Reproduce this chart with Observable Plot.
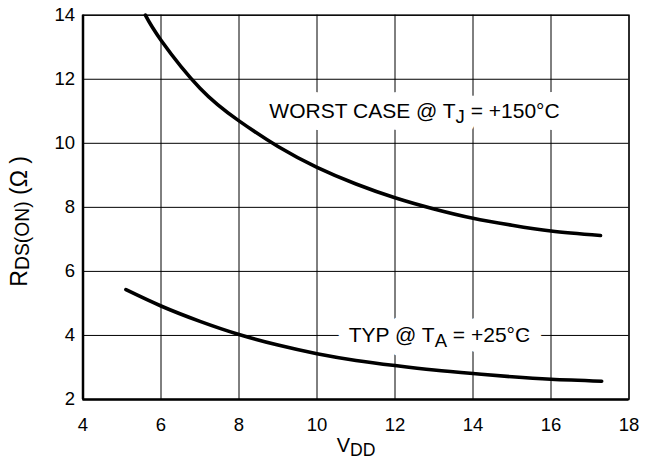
<!DOCTYPE html>
<html><head><meta charset="utf-8">
<script src="https://cdn.jsdelivr.net/npm/d3@7"></script>
<script src="https://cdn.jsdelivr.net/npm/@observablehq/plot@0.6"></script>
<style>body{margin:0;background:#fff} svg{display:block}</style>
</head><body><div id="chart"></div>
<script>
// Worst case @ TJ = +150°C
const worstVdd = [5.6, 6, 7, 8, 9, 10, 11, 12, 13, 14, 15, 16, 17.27];
const worstR   = [14, 13.22, 11.72, 10.7, 9.9, 9.25, 8.73, 8.3, 7.95, 7.66, 7.44, 7.26, 7.12];
// Typical @ TA = +25°C
const typVdd = [5.1, 6, 7, 8, 9, 10, 11, 12, 13, 14, 15, 16, 17.3];
const typR   = [5.43, 4.92, 4.44, 4.03, 3.7, 3.43, 3.22, 3.06, 2.92, 2.81, 2.71, 2.63, 2.57];

const xTicks = [4, 6, 8, 10, 12, 14, 16, 18];
const yTicks = [2, 4, 6, 8, 10, 12, 14];

const noteText = ["WORST CASE @ T_{J} = +150°C", "TYP @ T_{A} = +25°C"];
const noteX = [12.5, 13.14];
const noteY = [11, 4];
const xLabel = "V_{DD}";
const yLabel = "R_{DS(ON)} (Ω )";

const worst = worstVdd.map((v, i) => ({vdd: v, r: worstR[i]}));
const typ = typVdd.map((v, i) => ({vdd: v, r: typR[i]}));
const notes = noteText.map((t, i) => ({text: t, x: noteX[i], y: noteY[i]}));

const chart = Plot.plot({
  width: 645,
  height: 462,
  marginLeft: 82.5,
  marginRight: 16.5,
  marginTop: 14.7,
  marginBottom: 63,
  x: {domain: [4, 18], label: null},
  y: {domain: [2, 14], label: null},
  style: {fontFamily: "'Liberation Sans', Arial, Helvetica, sans-serif", fontSize: "18px", color: "#000", background: "#fff"},
  marks: [
    Plot.gridX(xTicks, {stroke: "#000", strokeOpacity: 1, strokeWidth: 1}),
    Plot.gridY(yTicks, {stroke: "#000", strokeOpacity: 1, strokeWidth: 1}),
    Plot.frame({stroke: "#000", strokeWidth: 1.3}),
    Plot.ruleX([4], {stroke: "#000", strokeWidth: 2.5}),
    Plot.ruleY([2], {stroke: "#000", strokeWidth: 2.5}),
    Plot.axisX(xTicks, {tickSize: 0, tickPadding: 18, fontSize: 18.5, label: null}),
    Plot.axisY(yTicks, {tickSize: 0, tickPadding: 8, fontSize: 18.5, label: null}),
    // white background behind the annotations
    Plot.text(notes, {x: "x", y: "y", text: "text", fontSize: 21, fill: "#fff", stroke: "#fff", strokeWidth: 24, ariaHidden: true}),
    Plot.text(notes, {x: "x", y: "y", text: "text", fontSize: 21, fill: "#000"}),
    Plot.line(worst, {x: "vdd", y: "r", curve: "natural", stroke: "#000", strokeWidth: 3.6}),
    Plot.line(typ, {x: "vdd", y: "r", curve: "natural", stroke: "#000", strokeWidth: 3.6}),
    Plot.text([xLabel], {frameAnchor: "bottom", textAnchor: "middle", lineAnchor: "middle", text: d => d, fontSize: 20, dy: 46, fill: "#000"}),
    Plot.text([yLabel], {frameAnchor: "left", textAnchor: "middle", lineAnchor: "middle", text: d => d, fontSize: 23, rotate: -90, dx: -63, dy: 14, fill: "#000"})
  ]
});

// convert X_{sub} notation into real subscript tspans
const NS = "http://www.w3.org/2000/svg";
chart.querySelectorAll("text").forEach(t => {
  const s = t.textContent;
  if (!s.includes("_{")) return;
  const isY = s.startsWith("R_");
  const shift = isY ? 1.5 : 4.5;
  const subSize = isY ? "0.84em" : "0.88em";
  while (t.firstChild) t.removeChild(t.firstChild);
  const re = /_\{([^}]*)\}/g;
  let last = 0, m;
  while ((m = re.exec(s)) !== null) {
    if (m.index > last) {
      const a = document.createElementNS(NS, "tspan");
      a.textContent = s.slice(last, m.index);
      t.appendChild(a);
    }
    const sub = document.createElementNS(NS, "tspan");
    sub.textContent = m[1];
    sub.setAttribute("font-size", subSize);
    sub.setAttribute("dy", String(shift));
    t.appendChild(sub);
    last = re.lastIndex;
    if (last < s.length) {
      const b = document.createElementNS(NS, "tspan");
      b.textContent = s.slice(last);
      b.setAttribute("dy", String(-shift));
      t.appendChild(b);
      last = s.length;
    }
  }
});

document.getElementById("chart").appendChild(chart);
</script>
</body></html>
